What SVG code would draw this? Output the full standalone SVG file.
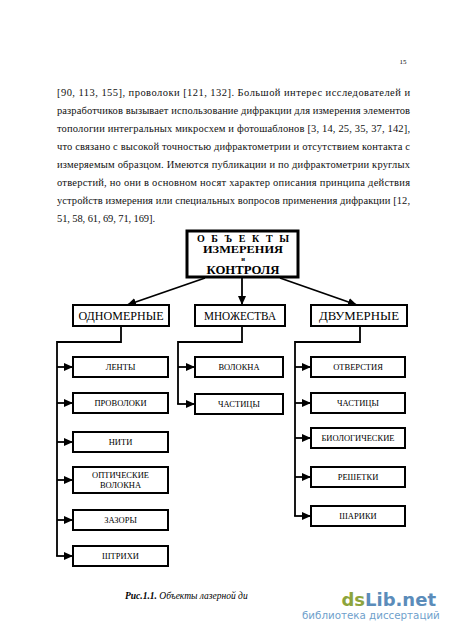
<svg xmlns="http://www.w3.org/2000/svg" width="450" height="636" viewBox="0 0 450 636">
<style>
.body{font-family:"Liberation Serif","Times New Roman",serif;font-size:10.5px;fill:#111}
.box{fill:#fff;stroke:#000;stroke-width:2}
.top{fill:#fff;stroke:#000;stroke-width:3}
.l2{font-family:"Liberation Serif","Times New Roman",serif;font-size:12px;text-anchor:middle;fill:#000}
.ch{font-family:"Liberation Serif","Times New Roman",serif;font-size:8.5px;text-anchor:middle;fill:#000}
.tt{font-family:"Liberation Serif","Times New Roman",serif;font-weight:bold;text-anchor:middle;fill:#000}
.conn{stroke:#000;stroke-width:1.8;fill:none}
</style>
<defs>
<marker id="ah" markerUnits="userSpaceOnUse" markerWidth="10" markerHeight="10" viewBox="0 0 10 10" refX="9" refY="5" orient="auto">
<path d="M0,1 L9,5 L0,9 Z" fill="#000"/>
</marker>
</defs>
<rect width="450" height="636" fill="#fff"/>
<text x="403" y="64" font-family="Liberation Serif" font-size="7" text-anchor="middle">15</text>
<g id="body-text" class="body">
<text x="57" y="96" textLength="353" lengthAdjust="spacing">[90, 113, 155], проволоки [121, 132]. Большой интерес исследователей и</text>
<text x="57" y="114" textLength="353" lengthAdjust="spacing">разработчиков вызывает использование дифракции для измерения элементов</text>
<text x="57" y="132" textLength="353" lengthAdjust="spacing">топологии интегральных микросхем и фотошаблонов [3, 14, 25, 35, 37, 142],</text>
<text x="57" y="150" textLength="353" lengthAdjust="spacing">что связано с высокой точностью дифрактометрии и отсутствием контакта с</text>
<text x="57" y="168" textLength="353" lengthAdjust="spacing">измеряемым образцом. Имеются публикации и по дифрактометрии круглых</text>
<text x="57" y="186" textLength="353" lengthAdjust="spacing">отверстий, но они в основном носят характер описания принципа действия</text>
<text x="57" y="204" textLength="353" lengthAdjust="spacing">устройств измерения или специальных вопросов применения дифракции [12,</text>
<text x="57" y="222" textLength="98" lengthAdjust="spacing">51, 58, 61, 69, 71, 169].</text>
</g>
<g id="connectors">
<line class="conn" x1="205" y1="278" x2="127" y2="305" marker-end="url(#ah)"/>
<line class="conn" x1="242" y1="278" x2="242" y2="305" marker-end="url(#ah)"/>
<line class="conn" x1="280" y1="278" x2="357" y2="305" marker-end="url(#ah)"/>
<polyline class="conn" points="121,326 121,342 57,342 57,556"/>
<line class="conn" x1="57" y1="367" x2="73" y2="367" marker-end="url(#ah)"/>
<line class="conn" x1="57" y1="403" x2="73" y2="403" marker-end="url(#ah)"/>
<line class="conn" x1="57" y1="442" x2="73" y2="442" marker-end="url(#ah)"/>
<line class="conn" x1="57" y1="480" x2="73" y2="480" marker-end="url(#ah)"/>
<line class="conn" x1="57" y1="520" x2="73" y2="520" marker-end="url(#ah)"/>
<line class="conn" x1="56.1" y1="556" x2="73" y2="556" marker-end="url(#ah)"/>
<polyline class="conn" points="242,326 242,342 178,342 178,404"/>
<line class="conn" x1="178" y1="367" x2="195" y2="367" marker-end="url(#ah)"/>
<line class="conn" x1="177.1" y1="404" x2="195" y2="404" marker-end="url(#ah)"/>
<polyline class="conn" points="360,326 360,342 295,342 295,516"/>
<line class="conn" x1="295" y1="367" x2="311" y2="367" marker-end="url(#ah)"/>
<line class="conn" x1="295" y1="403" x2="311" y2="403" marker-end="url(#ah)"/>
<line class="conn" x1="295" y1="438" x2="311" y2="438" marker-end="url(#ah)"/>
<line class="conn" x1="295" y1="477" x2="311" y2="477" marker-end="url(#ah)"/>
<line class="conn" x1="294.1" y1="516" x2="311" y2="516" marker-end="url(#ah)"/>
</g>
<g id="root">
<rect class="top" x="187" y="231" width="111" height="46"/>
<text class="tt" x="243" y="242" font-size="10" textLength="92" lengthAdjust="spacing">О Б Ъ Е К Т Ы</text>
<text class="tt" x="243" y="253.2" font-size="10" textLength="80" lengthAdjust="spacingAndGlyphs">ИЗМЕРЕНИЯ</text>
<text class="tt" x="243" y="261.3" font-size="6.5">и</text>
<text class="tt" x="243" y="274" font-size="12" textLength="73" lengthAdjust="spacingAndGlyphs">КОНТРОЛЯ</text>
</g>
<g id="odnomernye">
<rect class="box" x="73" y="305" width="96" height="21"/>
<text class="l2" x="121" y="320" textLength="85" lengthAdjust="spacingAndGlyphs">ОДНОМЕРНЫЕ</text>
</g>
<g id="mnozhestva">
<rect class="box" x="195" y="305" width="90" height="21"/>
<text class="l2" x="240" y="320" textLength="72" lengthAdjust="spacingAndGlyphs">МНОЖЕСТВА</text>
</g>
<g id="dvumernye">
<rect class="box" x="311" y="305" width="96" height="21"/>
<text class="l2" x="359" y="320" textLength="80" lengthAdjust="spacingAndGlyphs">ДВУМЕРНЫЕ</text>
</g>
<g id="lenty"><rect class="box" x="73" y="357" width="95" height="20"/><text class="ch" x="120.5" y="370">ЛЕНТЫ</text></g>
<g id="provoloki"><rect class="box" x="73" y="393" width="95" height="20"/><text class="ch" x="120.5" y="406">ПРОВОЛОКИ</text></g>
<g id="niti"><rect class="box" x="73" y="432" width="95" height="20"/><text class="ch" x="120.5" y="445">НИТИ</text></g>
<g id="opticheskie"><rect class="box" x="73" y="467" width="95" height="26"/><text class="ch" x="120.5" y="478">ОПТИЧЕСКИЕ</text><text class="ch" x="120.5" y="488">ВОЛОКНА</text></g>
<g id="zazory"><rect class="box" x="73" y="510" width="95" height="20"/><text class="ch" x="120.5" y="523">ЗАЗОРЫ</text></g>
<g id="shtrikhi"><rect class="box" x="73" y="546" width="95" height="20"/><text class="ch" x="120.5" y="559">ШТРИХИ</text></g>
<g id="volokna"><rect class="box" x="195" y="357" width="88" height="20"/><text class="ch" x="239" y="370">ВОЛОКНА</text></g>
<g id="chastitsy-m"><rect class="box" x="195" y="394" width="88" height="20"/><text class="ch" x="239" y="407">ЧАСТИЦЫ</text></g>
<g id="otverstiya"><rect class="box" x="311" y="357" width="94" height="20"/><text class="ch" x="358" y="370">ОТВЕРСТИЯ</text></g>
<g id="chastitsy-d"><rect class="box" x="311" y="393" width="94" height="20"/><text class="ch" x="358" y="406">ЧАСТИЦЫ</text></g>
<g id="biologicheskie"><rect class="box" x="311" y="428" width="94" height="20"/><text class="ch" x="358" y="441">БИОЛОГИЧЕСКИЕ</text></g>
<g id="reshetki"><rect class="box" x="311" y="467" width="94" height="20"/><text class="ch" x="358" y="480">РЕШЕТКИ</text></g>
<g id="shariki"><rect class="box" x="311" y="506" width="94" height="20"/><text class="ch" x="358" y="519">ШАРИКИ</text></g>
<text x="125" y="599" font-family="Liberation Serif" font-size="9.5" font-style="italic"><tspan font-weight="bold">Рис.1.1.</tspan>  Объекты лазерной ди</text>
<text x="436" y="606" font-family="DejaVu Sans" font-weight="bold" font-size="18" text-anchor="end"><tspan fill="#8da43c">ds</tspan><tspan fill="#5b8cba">Lib.net</tspan></text>
<text x="302" y="619" font-family="DejaVu Sans" font-size="10.3" fill="#6f9fcc">библиотека диссертаций</text>
</svg>
